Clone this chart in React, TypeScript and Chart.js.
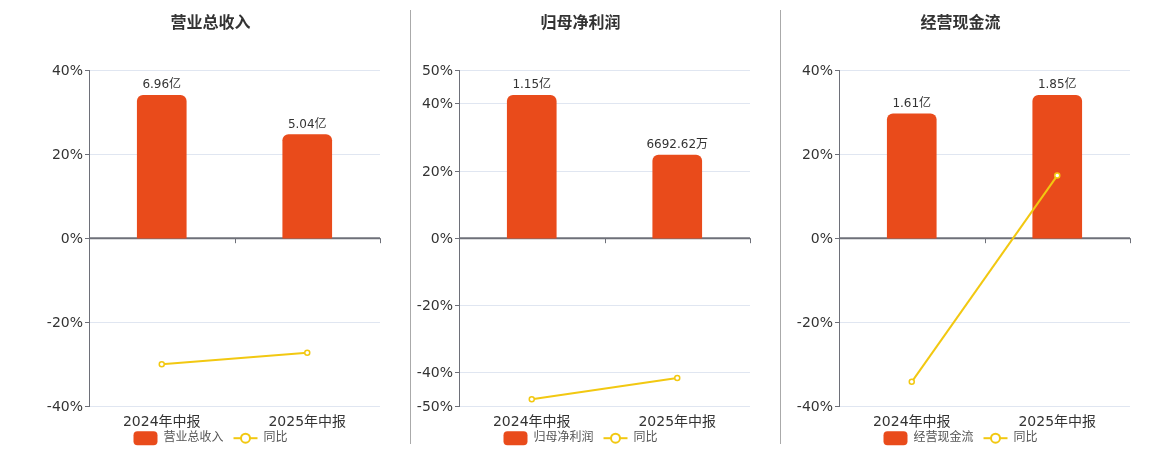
import { useEffect, useRef } from "react";
import { Chart, registerables } from "chart.js";

Chart.register(...registerables);

const categories = ["2024年中报", "2025年中报"];

const revenueTitle = "营业总收入";
const revenueValues = [6.96, 5.04]; // 亿
const revenueLabels = ["6.96亿", "5.04亿"];
const revenueYoy = [-30.0, -27.3];
const revenueTicks = [-40, -20, 0, 20, 40];

const profitTitle = "归母净利润";
const profitValues = [1.15, 0.669262]; // 亿
const profitLabels = ["1.15亿", "6692.62万"];
const profitYoy = [-47.9, -41.6];
const profitTicks = [-50, -40, -20, 0, 20, 40, 50];

const cashTitle = "经营现金流";
const cashValues = [1.61, 1.85]; // 亿
const cashLabels = ["1.61亿", "1.85亿"];
const cashYoy = [-34.2, 14.9];
const cashTicks = [-40, -20, 0, 20, 40];

const FONT = "'DejaVu Sans', 'Noto Sans CJK SC', sans-serif";
const BAR_COLOR = "#e94b1b";
const LINE_COLOR = "#f2c811";
const AXIS_COLOR = "#6e7079";

function drawBarIcon(ctx: CanvasRenderingContext2D, x: number, y: number) {
  ctx.fillStyle = BAR_COLOR;
  ctx.beginPath();
  ctx.roundRect(x, y - 7, 24, 14, 4);
  ctx.fill();
}

function drawLineIcon(ctx: CanvasRenderingContext2D, x: number, y: number) {
  ctx.strokeStyle = LINE_COLOR;
  ctx.lineWidth = 2;
  ctx.beginPath();
  ctx.moveTo(x, y);
  ctx.lineTo(x + 24, y);
  ctx.stroke();
  ctx.beginPath();
  ctx.arc(x + 12, y, 4.5, 0, Math.PI * 2);
  ctx.fillStyle = "#fff";
  ctx.fill();
  ctx.stroke();
}

// bar value labels, the dark axis line at 0% and the legend under the axis labels
const panelPlugin = {
  id: "panelExtras",
  beforeDatasetsDraw(chart: any) {
    const { ctx, chartArea } = chart;
    const y0 = chart.scales.y.getPixelForValue(0);
    const n = chart.data.labels.length;
    ctx.save();
    ctx.strokeStyle = AXIS_COLOR;
    ctx.lineWidth = 2;
    ctx.beginPath();
    ctx.moveTo(chartArea.left, y0);
    ctx.lineTo(chartArea.right, y0);
    ctx.stroke();
    ctx.lineWidth = 1;
    for (let i = 0; i <= n; i++) {
      const x = Math.round(chartArea.left + (i * (chartArea.right - chartArea.left)) / n) + 0.5;
      ctx.beginPath();
      ctx.moveTo(x, y0);
      ctx.lineTo(x, y0 + 5);
      ctx.stroke();
    }
    ctx.restore();
  },
  afterDatasetsDraw(chart: any, _args: any, opts: any) {
    const { ctx } = chart;
    const meta = chart.getDatasetMeta(0);
    ctx.save();
    ctx.font = `12px ${FONT}`;
    ctx.fillStyle = "#333";
    ctx.textAlign = "center";
    ctx.textBaseline = "middle";
    meta.data.forEach((el: any, i: number) => {
      ctx.fillText(opts.labels[i], el.x, el.y - 10);
    });
    ctx.restore();
  },
  afterDraw(chart: any, _args: any, opts: any) {
    const { ctx, width } = chart;
    const names = chart.data.datasets.map((d: any) => d.label);
    ctx.save();
    ctx.font = `12px ${FONT}`;
    const widths = names.map((t: string) => 24 + 6 + ctx.measureText(t).width);
    const total = widths.reduce((a: number, b: number) => a + b, 0) + 10 * (names.length - 1);
    const center = (opts.padLeft + width - opts.padRight) / 2;
    const y = chart.chartArea.bottom + 32;
    let x = center - total / 2;
    names.forEach((t: string, i: number) => {
      if (i === 0) drawBarIcon(ctx, x, y);
      else drawLineIcon(ctx, x, y);
      ctx.fillStyle = "#555";
      ctx.textAlign = "left";
      ctx.textBaseline = "middle";
      ctx.fillText(t, x + 30, y);
      x += widths[i] + 10;
    });
    ctx.restore();
  },
};

type PanelProps = {
  title: string;
  values: number[];
  labels: string[];
  yoy: number[];
  ticks: number[];
  left: number;
  padLeft: number;
  padRight: number;
};

const Panel = ({ title, values, labels, yoy, ticks, left, padLeft, padRight }: PanelProps) => {
  const canvasRef = useRef<HTMLCanvasElement>(null);

  useEffect(() => {
    const ctx = canvasRef.current!.getContext("2d")!;
    const barMax = Math.max(...values) / 0.851;

    const chart = new Chart(ctx, {
      type: "bar",
      data: {
        labels: categories,
        datasets: [
          {
            type: "bar",
            label: title,
            data: values,
            yAxisID: "y1",
            backgroundColor: BAR_COLOR,
            borderRadius: 6,
            barThickness: 49,
            order: 1,
          },
          {
            type: "line",
            label: "同比",
            data: yoy,
            yAxisID: "y",
            borderColor: LINE_COLOR,
            borderWidth: 2,
            pointRadius: 2.5,
            pointBorderWidth: 1.5,
            pointBackgroundColor: "#fff",
            pointBorderColor: LINE_COLOR,
            order: 0,
          } as any,
        ],
      },
      options: {
        responsive: false,
        animation: false,
        layout: { padding: { left: padLeft, right: padRight, top: 0, bottom: 11 } },
        plugins: {
          tooltip: { enabled: false },
          legend: { display: false },
          title: {
            display: true,
            text: title,
            color: "#333",
            font: { family: FONT, size: 16, weight: "bold" },
            padding: { top: 14, bottom: 37 },
          },
          panelExtras: { labels, padLeft, padRight },
        } as any,
        scales: {
          x: {
            grid: { display: false, drawTicks: false },
            border: { display: false },
            ticks: { color: "#333", padding: 8, font: { family: FONT, size: 14 } },
          },
          y: {
            min: ticks[0],
            max: ticks[ticks.length - 1],
            afterBuildTicks: (s: any) => {
              s.ticks = ticks.map((v) => ({ value: v }));
            },
            afterFit: (s: any) => {
              s.width = 48;
            },
            grid: { color: "#e0e6f1", tickColor: AXIS_COLOR, tickLength: 4 },
            border: { display: true, color: AXIS_COLOR },
            ticks: {
              color: "#333",
              padding: 2,
              labelOffset: 1,
              font: { family: FONT, size: 14 },
              callback: (v: any) => `${v}%`,
            },
          },
          y1: {
            display: false,
            min: -barMax,
            max: barMax,
          },
        },
      },
      plugins: [panelPlugin],
    });

    return () => {
      chart.destroy();
    };
  }, [title, values, labels, yoy, ticks, padLeft, padRight]);

  return (
    <canvas
      ref={canvasRef}
      width={370}
      height={450}
      style={{ position: "absolute", top: 0, left, width: 370, height: 450 }}
    />
  );
};

export default function App() {
  return (
    <div
      style={{
        position: "fixed",
        top: 0,
        left: 0,
        width: 1160,
        height: 450,
        overflow: "hidden",
        background: "#fff",
      }}
    >
      <Panel title={revenueTitle} values={revenueValues} labels={revenueLabels} yoy={revenueYoy} ticks={revenueTicks} left={40} padLeft={1} padRight={30} />
      <div style={{ position: "absolute", left: 410, top: 10, width: 1, height: 434, background: "#aaa" }} />
      <Panel title={profitTitle} values={profitValues} labels={profitLabels} yoy={profitYoy} ticks={profitTicks} left={411} padLeft={0} padRight={31} />
      <div style={{ position: "absolute", left: 780, top: 10, width: 1, height: 434, background: "#aaa" }} />
      <Panel title={cashTitle} values={cashValues} labels={cashLabels} yoy={cashYoy} ticks={cashTicks} left={781} padLeft={10} padRight={21} />
    </div>
  );
}
